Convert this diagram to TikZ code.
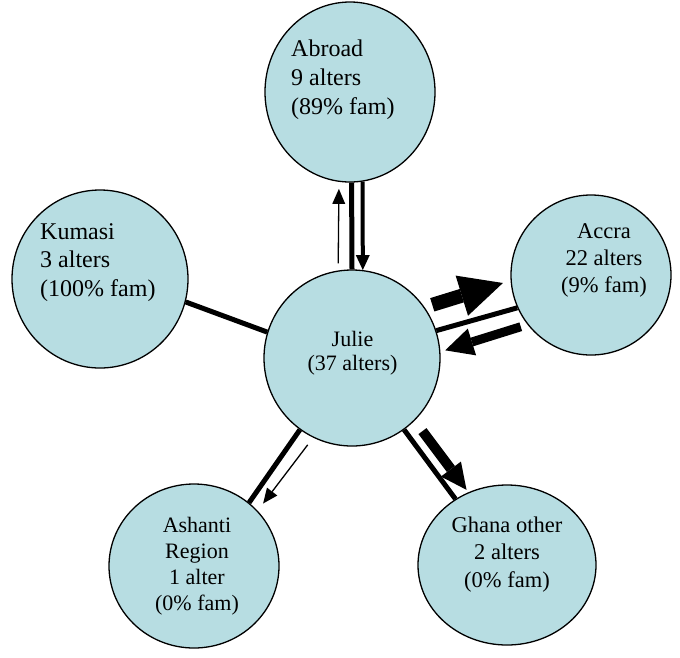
\documentclass[tikz,border=0pt]{standalone}
\usepackage{fontspec}
\setmainfont{Liberation Serif}
\usetikzlibrary{arrows.meta,shapes.geometric}
\definecolor{bubble}{RGB}{183,221,226}
\tikzset{
  region/.style={ellipse, draw=black, line width=1.3pt, fill=bubble, inner sep=0pt},
  txt/.style={inner sep=0pt},
  tie/.style={line width=5pt},
  thinflow/.style={line width=1.3pt, -{Triangle[length=15pt,width=13pt,line width=0pt]}},
  midflow/.style={line width=4pt, -{Triangle[length=15pt,width=14pt,line width=0pt]}},
  bigflow/.style={line width=14pt, -{Triangle[length=43pt,width=42pt,line width=0pt]}},
  wideflow/.style={line width=9pt, -{Triangle[length=28pt,width=28pt,line width=0pt]}},
  sideflow/.style={line width=10pt, -{Triangle[length=26pt,width=25pt,line width=0pt]}},
}
\begin{document}
\begin{tikzpicture}[x=1pt,y=-1pt]
\useasboundingbox (0,0) rectangle (680,657);

% the six places
\node[region, minimum width=170pt, minimum height=180pt] (abroad)  at (350,92)  {};
\node[region, minimum width=176pt, minimum height=178pt] (kumasi)  at (100,279) {};
\node[region, minimum width=160pt, minimum height=160pt] (accra)   at (591,275) {};
\node[region, minimum width=176pt, minimum height=176pt] (julie)   at (352,358) {};
\node[region, minimum width=170pt, minimum height=164pt] (ashanti) at (194,566) {};
\node[region, minimum width=178pt, minimum height=160pt] (ghana)   at (507,565) {};

% labels
\node[txt, anchor=base west, font=\fontsize{24}{29}\selectfont] (abroadtext) at (291,56.7)
  {\begin{tabular}[t]{@{}l@{}}Abroad\\9 alters\\(89\% fam)\end{tabular}};
\node[txt, anchor=base west, font=\fontsize{24}{28.5}\selectfont] (kumasitext) at (40,239)
  {\begin{tabular}[t]{@{}l@{}}Kumasi\\3 alters\\(100\% fam)\end{tabular}};
\node[txt, anchor=base, font=\fontsize{22.5}{27}\selectfont] (accratext) at (604,238)
  {\begin{tabular}[t]{@{}c@{}}Accra\\22 alters\\(9\% fam)\end{tabular}};
\node[txt, anchor=base, font=\fontsize{22}{24}\selectfont] (julietext) at (352.5,346)
  {\begin{tabular}[t]{@{}c@{}}Julie\\(37 alters)\end{tabular}};
\node[txt, anchor=base, font=\fontsize{22}{26}\selectfont] (ashantitext) at (197,532)
  {\begin{tabular}[t]{@{}c@{}}Ashanti\\Region\\1 alter\\(0\% fam)\end{tabular}};
\node[txt, anchor=base, font=\fontsize{22.5}{27.5}\selectfont] (ghanatext) at (507,532)
  {\begin{tabular}[t]{@{}c@{}}Ghana other\\2 alters\\(0\% fam)\end{tabular}};

% ties
\draw[tie] (abroad.-89) -- (julie.90);
\draw[tie] (kumasi.-15.8) -- (julie.163.6);
\draw[tie] (julie.18.4) -- (accra.204.3);
\draw[tie] (julie.-126.1) -- (ashanti.49.8);
\draw[tie] (julie.-54.7) -- (ghana.128.7);

% flows
\draw[midflow] (abroad.-82.3) -- (julie.83.5);
\draw[thinflow, shorten <=7pt, shorten >=7pt] (julie.99.2) -- (abroad.-97.7);
\draw[bigflow, shorten <=8pt, shorten >=8pt] (julie.35.7) -- (accra.184.5);
\draw[wideflow, shorten <=7pt, shorten >=5pt] (accra.218) -- (julie.4.9);
\draw[thinflow, shorten <=9pt, shorten >=9pt] (julie.-116.8) -- (ashanti.41.5);
\draw[sideflow, shorten <=13pt, shorten >=3pt] (julie.-45.4) -- (ghana.118.1);
\end{tikzpicture}
\end{document}
